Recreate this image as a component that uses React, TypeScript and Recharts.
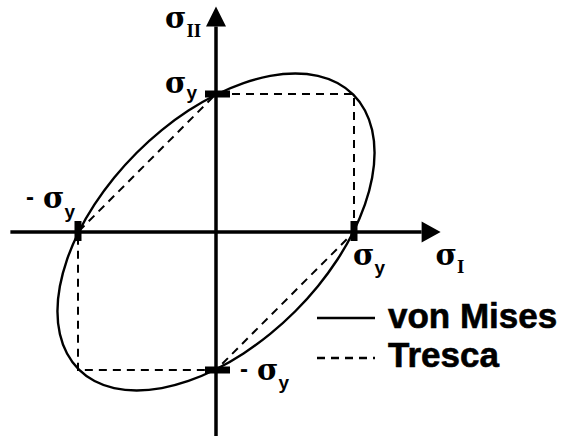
import React from "react";
import {
  ComposedChart, Line, XAxis, YAxis, ReferenceLine, ReferenceDot, Legend,
} from "recharts";

// von Mises locus in units of σy, one point every 10° round the ellipse
const misesI = [
  1, 1.085, 1.137, 1.155, 1.137, 1.085, 1, 0.8845, 0.7422, 0.5774, 0.395, 0.2005,
  0, -0.2005, -0.3949, -0.5774, -0.7422, -0.8846, -1, -1.085, -1.137, -1.155, -1.137, -1.085,
  -1, -0.8845, -0.7422, -0.5774, -0.395, -0.2005, 0, 0.2005, 0.3949, 0.5774, 0.7422, 0.8846,
];
const misesII = [
  1, 0.8846, 0.7422, 0.5774, 0.3949, 0.2005, 0, -0.2005, -0.395, -0.5774, -0.7422, -0.8845,
  -1, -1.085, -1.137, -1.155, -1.137, -1.085, -1, -0.8846, -0.7422, -0.5774, -0.3949, -0.2005,
  0, 0.2005, 0.395, 0.5774, 0.7422, 0.8845, 1, 1.085, 1.137, 1.155, 1.137, 1.085,
];

// Tresca hexagon corners
const trescaI = [1, 1, 0, -1, -1, 0, 1];
const trescaII = [0, 1, 1, 0, -1, -1, 0];

// yield stress marks on the axes
const tickI = [1, -1, 0, 0];
const tickII = [0, 0, 1, -1];

const seriesNames = ["von Mises", "Tresca"];

const misesData = misesI.map((x, i) => ({ x, y: misesII[i] }));
const trescaData = trescaI.map((x, i) => ({ x, y: trescaII[i] }));

const W = 563;
const H = 436;
const X_DOMAIN = [-1.5652, 2.5145];
const Y_DOMAIN = [-1.4783, 1.6812];
const AXIS_END = 1.49;
const TRESCA_DASH = "8 6";

type P = { cx?: number; cy?: number };

const ArrowRight = ({ cx = 0, cy = 0 }: P) => (
  <polygon points={`${cx},${cy - 10.5} ${cx + 19},${cy} ${cx},${cy + 10.5}`} fill="#000" />
);
const ArrowUp = ({ cx = 0, cy = 0 }: P) => (
  <polygon points={`${cx - 10},${cy} ${cx},${cy - 20} ${cx + 10},${cy}`} fill="#000" />
);

const TickMark = ({ cx = 0, cy = 0, vertical }: P & { vertical: boolean }) =>
  vertical ? (
    <rect x={cx - 3.5} y={cy - 11} width={7} height={20} fill="#000" />
  ) : (
    <rect x={cx - 11} y={cy - 3.5} width={25} height={7} fill="#000" />
  );

type SigmaProps = P & {
  dx: number; dy: number; sub: string; subSans?: boolean; subDy: number; minus?: boolean;
};

function SigmaLabel({ cx = 0, cy = 0, dx, dy, sub, subSans, subDy, minus }: SigmaProps) {
  const x = cx + dx;
  const y = cy + dy;
  return (
    <g>
      {minus && (
        <text x={x - 17} y={y - 3} fontFamily="Liberation Sans" fontWeight="bold" fontSize={24} fill="#000">
          -
        </text>
      )}
      <text x={x} y={y} fontFamily="DejaVu Serif" fontWeight="bold" fontSize={29} fill="#000">
        σ
        <tspan
          dy={subDy}
          fontFamily={subSans ? "Liberation Sans" : "Liberation Serif"}
          fontSize={subSans ? 19 : 19}
        >
          {sub}
        </tspan>
      </text>
    </g>
  );
}

function LegendBox() {
  return (
    <svg width={246} height={80}>
      {seriesNames.map((name, i) => (
        <g key={name}>
          <line
            x1={0} x2={58} y1={23 + i * 40} y2={23 + i * 40}
            stroke="#000" strokeWidth={2.4}
            strokeDasharray={i === 1 ? TRESCA_DASH : undefined}
          />
          <text
            x={71} y={33 + i * 39}
            fontFamily="Liberation Sans" fontWeight="bold" fontSize={35}
            fill="#000" stroke="#000" strokeWidth={0.6}
          >
            {name}
          </text>
        </g>
      ))}
    </svg>
  );
}

export default function App() {
  return (
    <div style={{ position: "absolute", left: 0, top: 0, background: "#fff" }}>
      <ComposedChart width={W} height={H} margin={{ top: 0, right: 0, bottom: 0, left: 0 }}>
        <XAxis dataKey="x" type="number" domain={X_DOMAIN} allowDataOverflow hide />
        <YAxis dataKey="y" type="number" domain={Y_DOMAIN} allowDataOverflow hide />

        {/* σI and σII axes */}
        <ReferenceLine
          segment={[{ x: -1.49, y: 0 }, { x: AXIS_END, y: 0 }]}
          stroke="#000" strokeWidth={3.5} ifOverflow="visible"
        />
        <ReferenceLine
          segment={[{ x: 0, y: -1.6 }, { x: 0, y: AXIS_END }]}
          stroke="#000" strokeWidth={3.5} ifOverflow="visible"
        />
        <ReferenceDot x={AXIS_END} y={0} shape={(p: P) => <ArrowRight {...p} />} />
        <ReferenceDot x={0} y={AXIS_END} shape={(p: P) => <ArrowUp {...p} />} />

        <Line
          name={seriesNames[1]} data={trescaData} dataKey="y" type="linear"
          stroke="#000" strokeWidth={2} strokeDasharray={TRESCA_DASH}
          dot={false} activeDot={false} isAnimationActive={false}
        />
        {/* closed smooth curve through the sampled locus */}
        <Line
          name={seriesNames[0]} data={misesData} dataKey="y" type="basisClosed"
          stroke="#000" strokeWidth={2.4}
          dot={false} activeDot={false} isAnimationActive={false}
        />

        {tickI.map((x, i) => (
          <ReferenceDot
            key={`tick-${i}`} x={x} y={tickII[i]}
            shape={(p: P) => <TickMark {...p} vertical={tickII[i] === 0} />}
          />
        ))}

        {/* axis names */}
        <ReferenceDot
          x={0} y={AXIS_END}
          shape={(p: P) => <SigmaLabel {...p} dx={-51} dy={2} sub="II" subDy={9} />}
        />
        <ReferenceDot
          x={AXIS_END} y={0}
          shape={(p: P) => <SigmaLabel {...p} dx={14} dy={33} sub="I" subDy={8} />}
        />

        {/* yield stress labels */}
        <ReferenceDot
          x={0} y={1}
          shape={(p: P) => <SigmaLabel {...p} dx={-51} dy={-1} sub="y" subSans subDy={6} />}
        />
        <ReferenceDot
          x={-1} y={0}
          shape={(p: P) => <SigmaLabel {...p} dx={-35} dy={-24} sub="y" subSans subDy={10} minus />}
        />
        <ReferenceDot
          x={1} y={0}
          shape={(p: P) => <SigmaLabel {...p} dx={-1} dy={33} sub="y" subSans subDy={9} />}
        />
        <ReferenceDot
          x={0} y={-1}
          shape={(p: P) => <SigmaLabel {...p} dx={41} dy={10} sub="y" subSans subDy={9} minus />}
        />

        <Legend
          layout="vertical" align="center" verticalAlign="middle"
          wrapperStyle={{ left: 317, top: 295, width: 246 }}
          content={() => <LegendBox />}
        />
      </ComposedChart>
    </div>
  );
}
